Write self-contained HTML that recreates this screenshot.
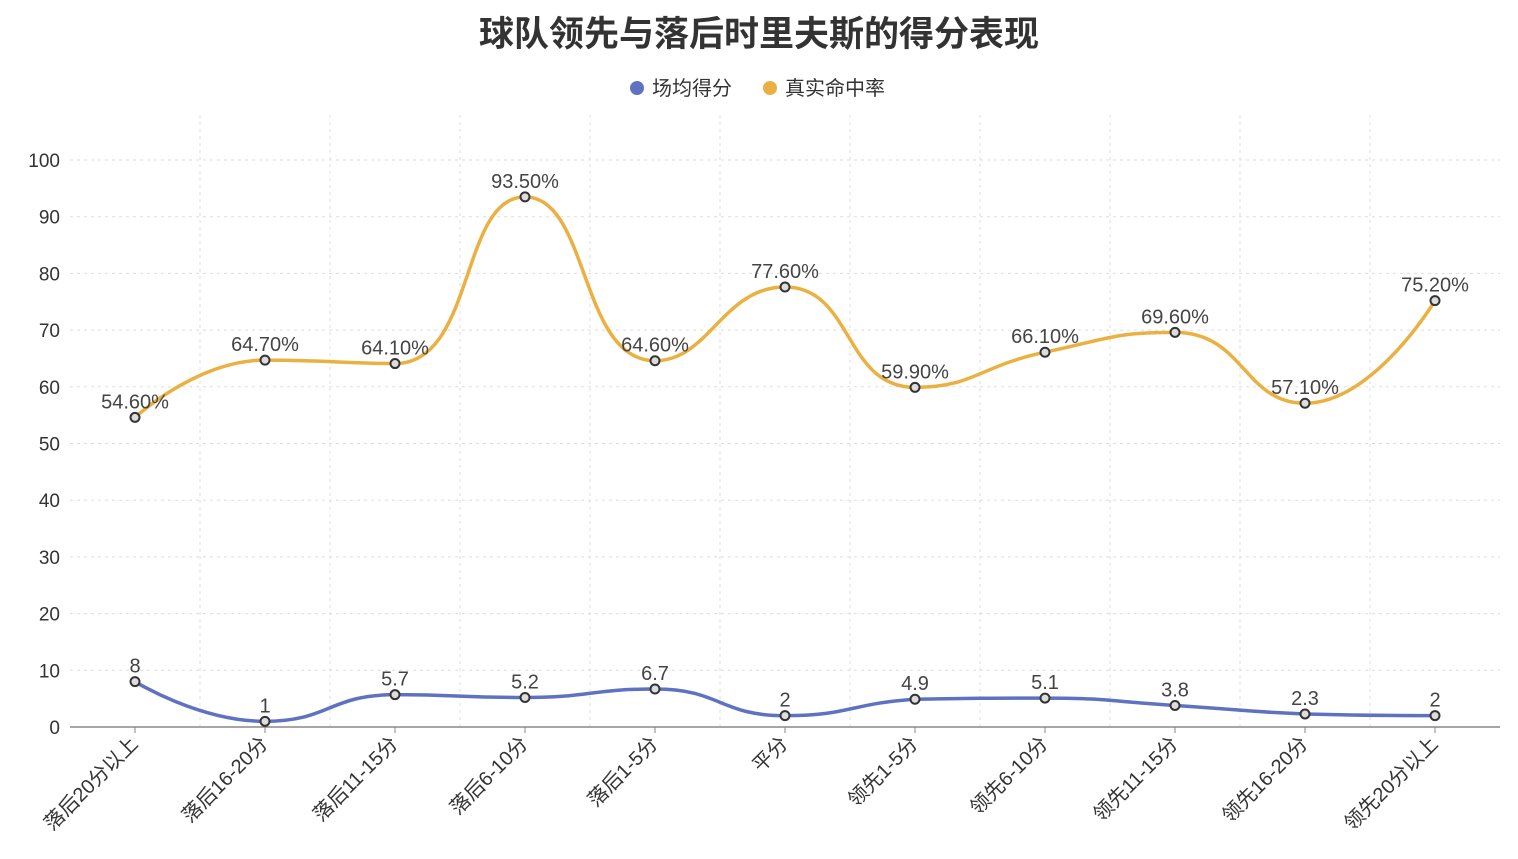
<!DOCTYPE html>
<html><head><meta charset="utf-8"><style>
body{margin:0;background:#fff;}
svg{display:block;font-family:"Liberation Sans","Noto Sans CJK SC",sans-serif;}
</style></head><body>
<svg id="c" width="1518" height="859" xmlns="http://www.w3.org/2000/svg">
<text x="759" y="46" text-anchor="middle" font-size="35" font-weight="bold" fill="#333">球队领先与落后时里夫斯的得分表现</text>
<circle cx="637" cy="88" r="7" fill="#5f72c1"/>
<text x="652" y="95" font-size="20" fill="#333">场均得分</text>
<circle cx="770" cy="88" r="7" fill="#ebb042"/>
<text x="785" y="95" font-size="20" fill="#333">真实命中率</text>
<g id="g"></g>
</svg>
<script>
var g=document.getElementById('g'),h='';
function Y(v){return 727-5.67*v;}
var cats=['落后20分以上','落后16-20分','落后11-15分','落后6-10分','落后1-5分','平分','领先1-5分','领先6-10分','领先11-15分','领先16-20分','领先20分以上'];
var a=[8,1,5.7,5.2,6.7,2,4.9,5.1,3.8,2.3,2];
var b=[54.6,64.7,64.1,93.5,64.6,77.6,59.9,66.1,69.6,57.1,75.2];
for(var v=10;v<=100;v+=10)h+='<line x1="70" x2="1500" y1="'+Y(v)+'" y2="'+Y(v)+'" stroke="#ddd" stroke-dasharray="3,4"/>';
for(var i=1;i<11;i++){var x=70+130*i;h+='<line x1="'+x+'" x2="'+x+'" y1="115" y2="727" stroke="#ddd" stroke-dasharray="3,4"/>';}
h+='<line x1="70" x2="1500" y1="727" y2="727" stroke="#888" stroke-width="1.5"/>';
for(var v=0;v<=100;v+=10)h+='<text x="60" y="'+(Y(v)+7)+'" text-anchor="end" font-size="19" fill="#333">'+v+'</text>';
for(var i=0;i<11;i++){var x=135+130*i;h+='<line x1="'+x+'" x2="'+x+'" y1="727" y2="733" stroke="#888"/>';
h+='<text transform="translate('+(x+4)+',745) rotate(-45)" text-anchor="end" font-size="20" fill="#333">'+cats[i]+'</text>';}
function cl(v,a,b){var lo=Math.min(a,b),hi=Math.max(a,b);return Math.max(lo,Math.min(hi,v));}
function path(d){var p=d.map(function(v,i){return [135+130*i,Y(v)];});var s='M'+p[0][0]+','+p[0][1];
var cps=p.map(function(pt,i){if(i==0||i==p.length-1)return [pt,pt];var pr=p[i-1],nx=p[i+1];
var vx=(nx[0]-pr[0])*0.5,vy=(nx[1]-pr[1])*0.5;var d0=Math.hypot(pt[0]-pr[0],pt[1]-pr[1]),d1=Math.hypot(nx[0]-pt[0],nx[1]-pt[1]);var s0=d0/(d0+d1),s1=d1/(d0+d1);
var c0=[pt[0]-vx*s0,pt[1]-vy*s0],c1=[pt[0]+vx*s1,pt[1]+vy*s1];
var ext=(pt[1]-pr[1])*(nx[1]-pt[1])<=0;
if(ext){c0[1]=pt[1];c1[1]=pt[1];}else{c0[1]=cl(c0[1],pr[1],pt[1]);c1[1]=cl(c1[1],pt[1],nx[1]);}
return [c0,c1];});
for(var i=1;i<p.length;i++){var c1=cps[i-1][1],c0=cps[i][0];s+=' C'+c1[0]+','+c1[1]+' '+c0[0]+','+c0[1]+' '+p[i][0]+','+p[i][1];}
return s;}
function series(d,col,lab){h+='<path d="'+path(d)+'" fill="none" stroke="'+col+'" stroke-width="3.5"/>';
d.forEach(function(v,i){var x=135+130*i;h+='<circle cx="'+x+'" cy="'+Y(v)+'" r="4.5" fill="#ddd" stroke="#333" stroke-width="2"/>';
h+='<text x="'+x+'" y="'+(Y(v)-9)+'" text-anchor="middle" font-size="20" fill="#444">'+lab(v)+'</text>';});}
series(a,'#5f72c1',function(v){return v;});
series(b,'#ebb042',function(v){return v.toFixed(2)+'%';});
g.innerHTML=h;
</script>
</body></html>
